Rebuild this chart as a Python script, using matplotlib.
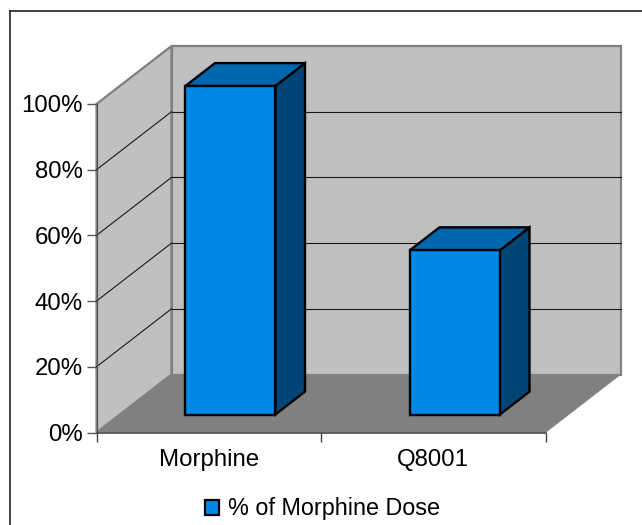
"""3D-look column chart of % of morphine dose, drawn as an oblique projection."""

import matplotlib
matplotlib.use("Agg")
import matplotlib.pyplot as plt
from matplotlib.lines import Line2D
from matplotlib.patches import Patch, Polygon

categories = ["Morphine", "Q8001"]
values = [100, 50]
y_ticks = [0, 20, 40, 60, 80, 100]
y_tick_labels = ["0%", "20%", "40%", "60%", "80%", "100%"]
series_name = "% of Morphine Dose"

W, H = 642, 525
# front plane of the plot box, in pixels
LEFT, RIGHT, BOTTOM, TOP = 96.5, 545.5, 432.5, 104.0

# oblique depth of the box in data units
DEPTH_X = 75 / 224.5
DEPTH_Y = 58 / 3.285
# bar footprint: depth fractions and x position inside a category
BAR_D0 = 18 / 58
BAR_D1 = BAR_D0 + 0.395
BAR_WIDTH = 90 / 224.5
BAR_OFFSET = 65.6 / 224.5

WALL = "#c0c0c0"
FLOOR = "#808080"
EDGE = "#808080"
FRONT = "#0088e8"
TOP_FACE = "#0066ae"
SIDE = "#004478"
FONT_SIZE = 17.3

plt.rcParams["font.family"] = ["Liberation Sans", "DejaVu Sans"]

fig = plt.figure(figsize=(W / 100, H / 100), dpi=100)
ax = fig.add_axes([LEFT / W, 1 - BOTTOM / H, (RIGHT - LEFT) / W, (BOTTOM - TOP) / H])
ax.set_xlim(0, len(categories))
ax.set_ylim(0, 100)
ax.patch.set_visible(False)
for s in ax.spines.values():
    s.set_visible(False)


def proj(x, y, d):
    return (x + d * DEPTH_X, y + d * DEPTH_Y)


def face(points, color, edge, lw, z):
    ax.add_patch(Polygon(points, closed=True, facecolor=color, edgecolor=edge,
                         linewidth=lw, joinstyle="miter", clip_on=False, zorder=z))


n = len(categories)
top = y_ticks[-1]

# Walls and floor.
face([proj(0, 0, 0), proj(0, 0, 1), proj(0, top, 1), proj(0, top, 0)], WALL, EDGE, 1.6, 1)
face([proj(0, 0, 1), proj(n, 0, 1), proj(n, top, 1), proj(0, top, 1)], WALL, EDGE, 1.6, 1)
face([proj(0, 0, 0), proj(n, 0, 0), proj(n, 0, 1), proj(0, 0, 1)], FLOOR, FLOOR, 0.5, 2)

# Gridlines: back wall and side wall, none at the 0 and top levels.
for t in y_ticks[1:-1]:
    xs, ys = zip(proj(0, t, 1), proj(n, t, 1))
    ax.plot(xs, ys, color="#1a1a1a", lw=0.8, clip_on=False, zorder=3)
    xs, ys = zip(proj(0, t, 0), proj(0, t, 1))
    ax.plot(xs, ys, color="#1a1a1a", lw=0.8, clip_on=False, zorder=3)

# Axis lines on the front plane.
ax.plot([0, n], [0, 0], color="#555555", lw=1.3, clip_on=False, zorder=4)
ax.plot([0, 0], [0, top], color="#555555", lw=0.9, clip_on=False, zorder=4)

# Bars.
for i, v in enumerate(values):
    x0 = i + BAR_OFFSET
    x1 = x0 + BAR_WIDTH
    face([proj(x1, 0, BAR_D0), proj(x1, 0, BAR_D1), proj(x1, v, BAR_D1), proj(x1, v, BAR_D0)],
         SIDE, "black", 1.7, 5)
    face([proj(x0, v, BAR_D0), proj(x1, v, BAR_D0), proj(x1, v, BAR_D1), proj(x0, v, BAR_D1)],
         TOP_FACE, "black", 1.7, 5)
    face([proj(x0, 0, BAR_D0), proj(x1, 0, BAR_D0), proj(x1, v, BAR_D0), proj(x0, v, BAR_D0)],
         FRONT, "black", 1.7, 6)

# Axis ticks and labels.
ax.set_yticks(y_ticks, y_tick_labels)
ax.tick_params(axis="y", length=7, width=1.0, color="#555555", pad=3,
               labelsize=FONT_SIZE, labelcolor="black")
ax.set_xticks(range(n + 1), [""] * (n + 1))
ax.tick_params(axis="x", which="major", length=6.5, width=1.0, color="#444444")
ax.set_xticks([i + 0.5 for i in range(n)], categories, minor=True)
ax.tick_params(axis="x", which="minor", length=0, pad=12, labelsize=FONT_SIZE, labelcolor="black")

# Legend, and the chart frame (only its left and top edges are in the picture).
handle = Patch(facecolor=FRONT, edgecolor="black", linewidth=1.6)
fig.legend([handle], [series_name], loc="center", bbox_to_anchor=(322.5 / W, 1 - 509 / H),
           frameon=False, fontsize=16.8, handlelength=0.6, handleheight=0.6,
           handletextpad=0.42, borderpad=0)
fig.add_artist(Line2D([10.5 / W, 10.5 / W], [0, 1 - 11 / H], color="#222222", lw=1.2))
fig.add_artist(Line2D([10 / W, 1], [1 - 11 / H, 1 - 11 / H], color="#222222", lw=1.2))

fig.savefig("out.png", dpi=100)
